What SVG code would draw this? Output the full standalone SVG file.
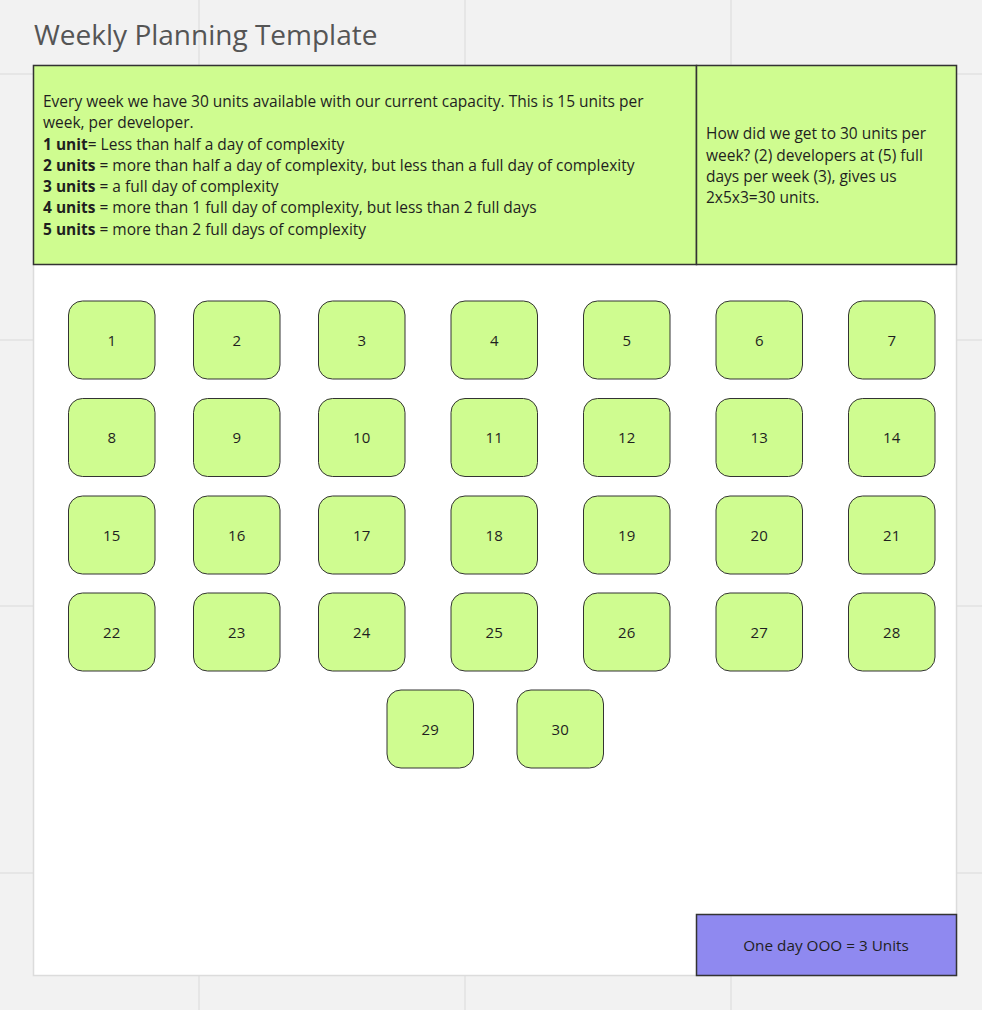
<svg xmlns="http://www.w3.org/2000/svg" width="982" height="1010" viewBox="0 0 982 1010">
<style>
text{font-family:"Open Sans","Noto Sans",sans-serif;fill:#1f1f1f}
.grid{stroke:#e2e2e2;stroke-width:1.5}
.box{fill:#cffc90;stroke:#333;stroke-width:1.5}
.n rect{fill:#cffc90;stroke:#333;stroke-width:1}
.n text{font-size:15px;text-anchor:middle}
.body{font-size:15.5px}
</style>
<rect x="0" y="0" width="982" height="1010" fill="#f2f2f2"/>
<g id="grid">
<line class="grid" x1="199" y1="0" x2="199" y2="1010"/>
<line class="grid" x1="465" y1="0" x2="465" y2="1010"/>
<line class="grid" x1="731" y1="0" x2="731" y2="1010"/>
<line class="grid" x1="0" y1="74" x2="982" y2="74"/>
<line class="grid" x1="0" y1="340" x2="982" y2="340"/>
<line class="grid" x1="0" y1="606" x2="982" y2="606"/>
<line class="grid" x1="0" y1="873" x2="982" y2="873"/>
</g>
<text id="title" x="34" y="45" font-size="28" style="fill:#555">Weekly Planning Template</text>
<rect id="frame" x="33.5" y="65.5" width="923" height="910" fill="#fff" stroke="#dcdcdc" stroke-width="1.5"/>
<g id="info">
<rect class="box" x="33.5" y="65.5" width="663" height="199"/>
<text class="body" x="43">
<tspan x="43" y="107">Every week we have 30 units available with our current capacity. This is 15 units per</tspan>
<tspan x="43" y="128">week, per developer.</tspan>
<tspan x="43" y="149.5"><tspan font-weight="bold">1 unit</tspan>= Less than half a day of complexity</tspan>
<tspan x="43" y="170.5"><tspan font-weight="bold">2 units</tspan> = more than half a day of complexity, but less than a full day of complexity</tspan>
<tspan x="43" y="192"><tspan font-weight="bold">3 units</tspan> = a full day of complexity</tspan>
<tspan x="43" y="213"><tspan font-weight="bold">4 units</tspan> = more than 1 full day of complexity, but less than 2 full days</tspan>
<tspan x="43" y="234.5"><tspan font-weight="bold">5 units</tspan> = more than 2 full days of complexity</tspan>
</text>
</g>
<g id="how">
<rect class="box" x="696.5" y="65.5" width="260" height="199"/>
<text class="body">
<tspan x="706" y="139">How did we get to 30 units per</tspan>
<tspan x="706" y="160.5">week? (2) developers at (5) full</tspan>
<tspan x="706" y="182">days per week (3), gives us</tspan>
<tspan x="706" y="203">2x5x3=30 units.</tspan>
</text>
</g>
<g id="ooo">
<rect x="696.5" y="914.5" width="260" height="61" fill="#8f89f0" stroke="#333" stroke-width="1.5"/>
<text x="826" y="950.5" font-size="15.3" text-anchor="middle">One day OOO = 3 Units</text>
</g>
<g id="nodes">
<g id="n1" class="n"><rect x="68.5" y="301" width="86.5" height="78" rx="14"/><text x="111.7" y="345.5">1</text></g>
<g id="n2" class="n"><rect x="193.5" y="301" width="86.5" height="78" rx="14"/><text x="236.7" y="345.5">2</text></g>
<g id="n3" class="n"><rect x="318.5" y="301" width="86.5" height="78" rx="14"/><text x="361.7" y="345.5">3</text></g>
<g id="n4" class="n"><rect x="451" y="301" width="86.5" height="78" rx="14"/><text x="494.2" y="345.5">4</text></g>
<g id="n5" class="n"><rect x="583.5" y="301" width="86.5" height="78" rx="14"/><text x="626.7" y="345.5">5</text></g>
<g id="n6" class="n"><rect x="716" y="301" width="86.5" height="78" rx="14"/><text x="759.2" y="345.5">6</text></g>
<g id="n7" class="n"><rect x="848.5" y="301" width="86.5" height="78" rx="14"/><text x="891.7" y="345.5">7</text></g>
<g id="n8" class="n"><rect x="68.5" y="398.5" width="86.5" height="78" rx="14"/><text x="111.7" y="443">8</text></g>
<g id="n9" class="n"><rect x="193.5" y="398.5" width="86.5" height="78" rx="14"/><text x="236.7" y="443">9</text></g>
<g id="n10" class="n"><rect x="318.5" y="398.5" width="86.5" height="78" rx="14"/><text x="361.7" y="443">10</text></g>
<g id="n11" class="n"><rect x="451" y="398.5" width="86.5" height="78" rx="14"/><text x="494.2" y="443">11</text></g>
<g id="n12" class="n"><rect x="583.5" y="398.5" width="86.5" height="78" rx="14"/><text x="626.7" y="443">12</text></g>
<g id="n13" class="n"><rect x="716" y="398.5" width="86.5" height="78" rx="14"/><text x="759.2" y="443">13</text></g>
<g id="n14" class="n"><rect x="848.5" y="398.5" width="86.5" height="78" rx="14"/><text x="891.7" y="443">14</text></g>
<g id="n15" class="n"><rect x="68.5" y="496" width="86.5" height="78" rx="14"/><text x="111.7" y="540.5">15</text></g>
<g id="n16" class="n"><rect x="193.5" y="496" width="86.5" height="78" rx="14"/><text x="236.7" y="540.5">16</text></g>
<g id="n17" class="n"><rect x="318.5" y="496" width="86.5" height="78" rx="14"/><text x="361.7" y="540.5">17</text></g>
<g id="n18" class="n"><rect x="451" y="496" width="86.5" height="78" rx="14"/><text x="494.2" y="540.5">18</text></g>
<g id="n19" class="n"><rect x="583.5" y="496" width="86.5" height="78" rx="14"/><text x="626.7" y="540.5">19</text></g>
<g id="n20" class="n"><rect x="716" y="496" width="86.5" height="78" rx="14"/><text x="759.2" y="540.5">20</text></g>
<g id="n21" class="n"><rect x="848.5" y="496" width="86.5" height="78" rx="14"/><text x="891.7" y="540.5">21</text></g>
<g id="n22" class="n"><rect x="68.5" y="593" width="86.5" height="78" rx="14"/><text x="111.7" y="637.5">22</text></g>
<g id="n23" class="n"><rect x="193.5" y="593" width="86.5" height="78" rx="14"/><text x="236.7" y="637.5">23</text></g>
<g id="n24" class="n"><rect x="318.5" y="593" width="86.5" height="78" rx="14"/><text x="361.7" y="637.5">24</text></g>
<g id="n25" class="n"><rect x="451" y="593" width="86.5" height="78" rx="14"/><text x="494.2" y="637.5">25</text></g>
<g id="n26" class="n"><rect x="583.5" y="593" width="86.5" height="78" rx="14"/><text x="626.7" y="637.5">26</text></g>
<g id="n27" class="n"><rect x="716" y="593" width="86.5" height="78" rx="14"/><text x="759.2" y="637.5">27</text></g>
<g id="n28" class="n"><rect x="848.5" y="593" width="86.5" height="78" rx="14"/><text x="891.7" y="637.5">28</text></g>
<g id="n29" class="n"><rect x="387" y="690" width="86.5" height="78" rx="14"/><text x="430.2" y="734.5">29</text></g>
<g id="n30" class="n"><rect x="517" y="690" width="86.5" height="78" rx="14"/><text x="560.2" y="734.5">30</text></g>
</g>
<g id="connectors"/>
</svg>
